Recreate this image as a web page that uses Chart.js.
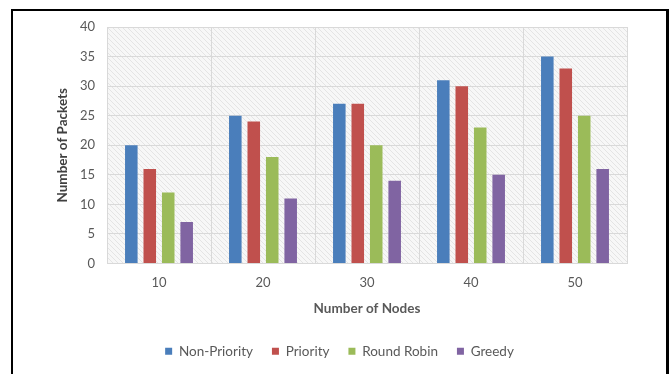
<!DOCTYPE html>
<html>
<head>
<meta charset="utf-8">
<script src="https://cdn.jsdelivr.net/npm/chart.js@4.4.1/dist/chart.umd.min.js"></script>
<style>
  html, body { margin: 0; padding: 0; background: #ffffff; }
  #wrap { position: relative; width: 672px; height: 374px; overflow: hidden; }
  #frame { position: absolute; left: 11px; top: 9px; width: 653px; height: 400px;
           border-top: 2px solid #000; border-left: 2px solid #000; border-right: 3px solid #000; }
  #c { position: absolute; left: 0; top: 0; }
</style>
</head>
<body>
<div id="wrap">
  <canvas id="c" width="672" height="374"></canvas>
  <div id="frame"></div>
</div>
<script>
// Number of nodes on the x axis
const nodes = ['10', '20', '30', '40', '50'];

// Packets delivered per scheduling scheme
const nonPriority = [20, 25, 27, 31, 35];
const priority    = [16, 24, 27, 30, 33];
const roundRobin  = [12, 18, 20, 23, 25];
const greedy      = [7, 11, 14, 15, 16];

const seriesNames  = ['Non-Priority', 'Priority', 'Round Robin', 'Greedy'];
const seriesColors = ['#4a7ebb', '#c0504d', '#9bbb59', '#8064a2'];

const FONT = 'Lato, "Open Sans", sans-serif';
const TEXT = '#595959';

// Light diagonal hatch behind the plot area
function hatchPattern(ctx) {
  const p = document.createElement('canvas');
  p.width = 5; p.height = 5;
  const g = p.getContext('2d');
  g.fillStyle = '#f7f7f7';
  g.fillRect(0, 0, 5, 5);
  g.strokeStyle = '#e4e4e4';
  g.lineWidth = 1;
  g.beginPath();
  g.moveTo(-1, -1); g.lineTo(6, 6);
  g.moveTo(-1, 4); g.lineTo(1, 6);
  g.moveTo(4, -1); g.lineTo(6, 1);
  g.stroke();
  return ctx.createPattern(p, 'repeat');
}

const hatchBg = {
  id: 'hatchBg',
  beforeDraw(chart) {
    const { ctx, chartArea: a } = chart;
    ctx.save();
    ctx.fillStyle = hatchPattern(ctx);
    ctx.fillRect(a.left, a.top, a.right - a.left, a.bottom - a.top);
    ctx.restore();
  }
};

const values = [nonPriority, priority, roundRobin, greedy];

new Chart(document.getElementById('c'), {
  type: 'bar',
  data: {
    labels: nodes,
    datasets: seriesNames.map((name, i) => ({
      label: name,
      data: values[i],
      backgroundColor: seriesColors[i],
      borderWidth: 0,
      barPercentage: 0.68,
      categoryPercentage: 0.71
    }))
  },
  options: {
    responsive: false,
    animation: false,
    devicePixelRatio: 1,
    layout: { padding: { left: 52, right: 45, top: 27, bottom: 6 } },
    plugins: {
      tooltip: { enabled: false },
      legend: {
        position: 'bottom',
        labels: {
          boxWidth: 7, boxHeight: 7, padding: 19,
          color: TEXT,
          font: { family: FONT, size: 13.5 }
        }
      }
    },
    scales: {
      x: {
        grid: { color: '#d9d9d9', offset: true, drawTicks: false },
        border: { color: '#d9d9d9' },
        ticks: { color: TEXT, font: { family: FONT, size: 13 }, padding: 12 },
        title: {
          display: true, text: 'Number of Nodes', color: TEXT,
          font: { family: FONT, size: 13.5, weight: 'bold' }, padding: { top: 0, bottom: 9 }
        },
        afterFit(s) { s.height = 62; }
      },
      y: {
        min: 0, max: 40,
        grid: { color: '#d9d9d9', drawTicks: false },
        border: { display: false },
        ticks: { stepSize: 5, color: TEXT, font: { family: FONT, size: 13 }, padding: 12 },
        title: {
          display: true, text: 'Number of Packets', color: '#404040',
          font: { family: FONT, size: 13.5, weight: 'bold' }, padding: { top: 3, bottom: 4 }
        },
        afterFit(s) { s.width = 55; }
      }
    }
  },
  plugins: [hatchBg]
});
</script>
</body>
</html>
